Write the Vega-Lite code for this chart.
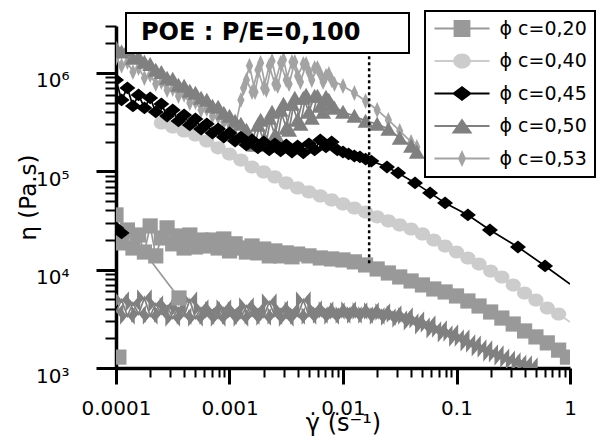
{
"$schema": "https://vega.github.io/schema/vega-lite/v6.json",
"width": 454, "height": 342,
"autosize": {"type": "none"},
"padding": {"left": 116, "top": 26, "right": 32, "bottom": 75},
"background": "white",
"config": {"view": {"stroke": null}, "font": "DejaVu Sans", "legend": {"strokeWidth": 2}},
"data": {"values": [
{"s":"0,53","r":"a","x":0.0001,"y":1420000},{"s":"0,53","r":"a","x":0.000112,"y":1180000},{"s":"0,53","r":"a","x":0.000126,"y":1290000},{"s":"0,53","r":"a","x":0.000141,"y":1020000},{"s":"0,53","r":"a","x":0.000158,"y":1120000},{"s":"0,53","r":"a","x":0.000178,"y":890000},{"s":"0,53","r":"a","x":0.0002,"y":954000},{"s":"0,53","r":"a","x":0.000224,"y":773000},{"s":"0,53","r":"a","x":0.000251,"y":810000},{"s":"0,53","r":"a","x":0.000282,"y":671000},{"s":"0,53","r":"a","x":0.000316,"y":687000},{"s":"0,53","r":"a","x":0.000355,"y":584000},{"s":"0,53","r":"a","x":0.000398,"y":600000},{"s":"0,53","r":"a","x":0.000447,"y":495000},{"s":"0,53","r":"a","x":0.000501,"y":505000},{"s":"0,53","r":"a","x":0.000562,"y":420000},{"s":"0,53","r":"a","x":0.000631,"y":430000},{"s":"0,53","r":"a","x":0.000708,"y":365000},{"s":"0,53","r":"a","x":0.000794,"y":357000},{"s":"0,53","r":"a","x":0.000891,"y":317000},{"s":"0,53","r":"a","x":0.001,"y":303000},{"s":"0,53","r":"a","x":0.00112,"y":276000},{"s":"0,53","r":"a","x":0.00126,"y":531000},{"s":"0,53","r":"a","x":0.00141,"y":849000},{"s":"0,53","r":"a","x":0.00158,"y":641000},{"s":"0,53","r":"a","x":0.00178,"y":1070000},{"s":"0,53","r":"a","x":0.002,"y":704000},{"s":"0,53","r":"a","x":0.00224,"y":1180000},{"s":"0,53","r":"a","x":0.00251,"y":773000},{"s":"0,53","r":"a","x":0.00282,"y":1260000},{"s":"0,53","r":"a","x":0.00316,"y":849000},{"s":"0,53","r":"a","x":0.00355,"y":1290000},{"s":"0,53","r":"a","x":0.00398,"y":932000},{"s":"0,53","r":"a","x":0.00447,"y":1230000},{"s":"0,53","r":"a","x":0.00501,"y":1020000},{"s":"0,53","r":"a","x":0.00562,"y":1120000},{"s":"0,53","r":"a","x":0.00631,"y":977000},{"s":"0,53","r":"a","x":0.00708,"y":932000},{"s":"0,53","r":"a","x":0.00794,"y":849000},{"s":"0,53","r":"a","x":0.01,"y":738000},{"s":"0,53","r":"a","x":0.0126,"y":626000},{"s":"0,53","r":"a","x":0.0158,"y":519000},{"s":"0,53","r":"a","x":0.02,"y":420000},{"s":"0,53","r":"a","x":0.0251,"y":333000},{"s":"0,53","r":"a","x":0.0316,"y":257000},{"s":"0,53","r":"a","x":0.0398,"y":199000},{"s":"0,53","r":"a","x":0.0447,"y":177000},
{"s":"0,53","r":"b","x":0.00133,"y":704000},{"s":"0,53","r":"b","x":0.0015,"y":1180000},{"s":"0,53","r":"b","x":0.00168,"y":641000},{"s":"0,53","r":"b","x":0.00188,"y":1260000},{"s":"0,53","r":"b","x":0.00211,"y":671000},{"s":"0,53","r":"b","x":0.00237,"y":1320000},{"s":"0,53","r":"b","x":0.00266,"y":738000},{"s":"0,53","r":"b","x":0.00299,"y":1360000},{"s":"0,53","r":"b","x":0.00335,"y":773000},{"s":"0,53","r":"b","x":0.00376,"y":1290000},{"s":"0,53","r":"b","x":0.00422,"y":810000},{"s":"0,53","r":"b","x":0.00473,"y":1230000},{"s":"0,53","r":"b","x":0.00531,"y":849000},{"s":"0,53","r":"b","x":0.00596,"y":1120000},{"s":"0,53","r":"b","x":0.00668,"y":810000},{"s":"0,53","r":"b","x":0.0075,"y":977000},{"s":"0,53","r":"b","x":0.00841,"y":773000},
{"s":"0,50","r":"a","x":0.0001,"y":1800000},{"s":"0,50","r":"a","x":0.000112,"y":1640000},{"s":"0,50","r":"a","x":0.000126,"y":1710000},{"s":"0,50","r":"a","x":0.000141,"y":1420000},{"s":"0,50","r":"a","x":0.000158,"y":1460000},{"s":"0,50","r":"a","x":0.000178,"y":1290000},{"s":"0,50","r":"a","x":0.0002,"y":1230000},{"s":"0,50","r":"a","x":0.000224,"y":1070000},{"s":"0,50","r":"a","x":0.000251,"y":1020000},{"s":"0,50","r":"a","x":0.000282,"y":890000},{"s":"0,50","r":"a","x":0.000316,"y":869000},{"s":"0,50","r":"a","x":0.000355,"y":755000},{"s":"0,50","r":"a","x":0.000398,"y":738000},{"s":"0,50","r":"a","x":0.000447,"y":656000},{"s":"0,50","r":"a","x":0.000501,"y":626000},{"s":"0,50","r":"a","x":0.000562,"y":557000},{"s":"0,50","r":"a","x":0.000631,"y":531000},{"s":"0,50","r":"a","x":0.000708,"y":462000},{"s":"0,50","r":"a","x":0.000794,"y":451000},{"s":"0,50","r":"a","x":0.000891,"y":392000},{"s":"0,50","r":"a","x":0.001,"y":365000},{"s":"0,50","r":"a","x":0.00112,"y":325000},{"s":"0,50","r":"a","x":0.00126,"y":303000},{"s":"0,50","r":"a","x":0.00141,"y":263000},{"s":"0,50","r":"a","x":0.00158,"y":208000},{"s":"0,50","r":"a","x":0.00178,"y":296000},{"s":"0,50","r":"a","x":0.002,"y":208000},{"s":"0,50","r":"a","x":0.00224,"y":348000},{"s":"0,50","r":"a","x":0.00251,"y":234000},{"s":"0,50","r":"a","x":0.00282,"y":420000},{"s":"0,50","r":"a","x":0.00316,"y":276000},{"s":"0,50","r":"a","x":0.00355,"y":484000},{"s":"0,50","r":"a","x":0.00398,"y":333000},{"s":"0,50","r":"a","x":0.00447,"y":557000},{"s":"0,50","r":"a","x":0.00501,"y":401000},{"s":"0,50","r":"a","x":0.00562,"y":584000},{"s":"0,50","r":"a","x":0.00631,"y":462000},{"s":"0,50","r":"a","x":0.00708,"y":570000},{"s":"0,50","r":"a","x":0.00794,"y":473000},{"s":"0,50","r":"a","x":0.01,"y":401000},{"s":"0,50","r":"a","x":0.0126,"y":365000},{"s":"0,50","r":"a","x":0.0158,"y":325000},{"s":"0,50","r":"a","x":0.02,"y":303000},{"s":"0,50","r":"a","x":0.0251,"y":269000},{"s":"0,50","r":"a","x":0.0316,"y":218000},{"s":"0,50","r":"a","x":0.0398,"y":181000},{"s":"0,50","r":"a","x":0.0447,"y":157000},
{"s":"0,50","r":"b","x":0.00168,"y":185000},{"s":"0,50","r":"b","x":0.00188,"y":333000},{"s":"0,50","r":"b","x":0.00211,"y":199000},{"s":"0,50","r":"b","x":0.00237,"y":401000},{"s":"0,50","r":"b","x":0.00266,"y":218000},{"s":"0,50","r":"b","x":0.00299,"y":484000},{"s":"0,50","r":"b","x":0.00335,"y":263000},{"s":"0,50","r":"b","x":0.00376,"y":557000},{"s":"0,50","r":"b","x":0.00422,"y":303000},{"s":"0,50","r":"b","x":0.00473,"y":597000},{"s":"0,50","r":"b","x":0.00531,"y":348000},{"s":"0,50","r":"b","x":0.00596,"y":584000},{"s":"0,50","r":"b","x":0.00668,"y":401000},{"s":"0,50","r":"b","x":0.0075,"y":531000},{"s":"0,50","r":"b","x":0.00841,"y":441000},
{"s":"0,50","r":"low","x":0.0001,"y":3710},{"s":"0,50","r":"low","x":0.000112,"y":4920},{"s":"0,50","r":"low","x":0.000126,"y":3380},{"s":"0,50","r":"low","x":0.000141,"y":4580},{"s":"0,50","r":"low","x":0.000158,"y":3540},{"s":"0,50","r":"low","x":0.000178,"y":5150},{"s":"0,50","r":"low","x":0.0002,"y":3380},{"s":"0,50","r":"low","x":0.000224,"y":4480},{"s":"0,50","r":"low","x":0.000251,"y":3540},{"s":"0,50","r":"low","x":0.000282,"y":4270},{"s":"0,50","r":"low","x":0.000316,"y":3220},{"s":"0,50","r":"low","x":0.000355,"y":4080},{"s":"0,50","r":"low","x":0.000398,"y":3380},{"s":"0,50","r":"low","x":0.000447,"y":4920},{"s":"0,50","r":"low","x":0.000501,"y":3220},{"s":"0,50","r":"low","x":0.000562,"y":4080},{"s":"0,50","r":"low","x":0.000631,"y":3380},{"s":"0,50","r":"low","x":0.000708,"y":3890},{"s":"0,50","r":"low","x":0.000794,"y":3220},{"s":"0,50","r":"low","x":0.000891,"y":4080},{"s":"0,50","r":"low","x":0.001,"y":3380},{"s":"0,50","r":"low","x":0.00112,"y":3890},{"s":"0,50","r":"low","x":0.00126,"y":3220},{"s":"0,50","r":"low","x":0.00141,"y":4270},{"s":"0,50","r":"low","x":0.00158,"y":3380},{"s":"0,50","r":"low","x":0.00178,"y":3980},{"s":"0,50","r":"low","x":0.002,"y":3300},{"s":"0,50","r":"low","x":0.00224,"y":4690},{"s":"0,50","r":"low","x":0.00251,"y":3380},{"s":"0,50","r":"low","x":0.00282,"y":3980},{"s":"0,50","r":"low","x":0.00316,"y":3220},{"s":"0,50","r":"low","x":0.00355,"y":3890},{"s":"0,50","r":"low","x":0.00398,"y":3380},{"s":"0,50","r":"low","x":0.00447,"y":4920},{"s":"0,50","r":"low","x":0.00501,"y":3380},{"s":"0,50","r":"low","x":0.00562,"y":3980},{"s":"0,50","r":"low","x":0.00631,"y":3460},{"s":"0,50","r":"low","x":0.00708,"y":3890},{"s":"0,50","r":"low","x":0.00794,"y":3380},{"s":"0,50","r":"low","x":0.00891,"y":3800},{"s":"0,50","r":"low","x":0.01,"y":3460},{"s":"0,50","r":"low","x":0.0112,"y":3890},{"s":"0,50","r":"low","x":0.0126,"y":3460},{"s":"0,50","r":"low","x":0.0141,"y":3800},{"s":"0,50","r":"low","x":0.0158,"y":3460},{"s":"0,50","r":"low","x":0.0178,"y":3800},{"s":"0,50","r":"low","x":0.02,"y":3380},{"s":"0,50","r":"low","x":0.0224,"y":3710},{"s":"0,50","r":"low","x":0.0251,"y":3300},{"s":"0,50","r":"low","x":0.0282,"y":3540},{"s":"0,50","r":"low","x":0.0316,"y":3150},{"s":"0,50","r":"low","x":0.0355,"y":3380},{"s":"0,50","r":"low","x":0.0398,"y":2940},{"s":"0,50","r":"low","x":0.0447,"y":3080},{"s":"0,50","r":"low","x":0.0501,"y":2680},{"s":"0,50","r":"low","x":0.0562,"y":2800},{"s":"0,50","r":"low","x":0.0631,"y":2440},{"s":"0,50","r":"low","x":0.0708,"y":2490},{"s":"0,50","r":"low","x":0.0794,"y":2220},{"s":"0,50","r":"low","x":0.0891,"y":2270},{"s":"0,50","r":"low","x":0.1,"y":2020},{"s":"0,50","r":"low","x":0.112,"y":2020},{"s":"0,50","r":"low","x":0.126,"y":1800},{"s":"0,50","r":"low","x":0.141,"y":1750},{"s":"0,50","r":"low","x":0.158,"y":1600},{"s":"0,50","r":"low","x":0.178,"y":1560},{"s":"0,50","r":"low","x":0.2,"y":1420},{"s":"0,50","r":"low","x":0.224,"y":1390},{"s":"0,50","r":"low","x":0.251,"y":1290},{"s":"0,50","r":"low","x":0.282,"y":1230},{"s":"0,50","r":"low","x":0.316,"y":1180},{"s":"0,50","r":"low","x":0.355,"y":1120},{"s":"0,50","r":"low","x":0.398,"y":1100},{"s":"0,50","r":"low","x":0.447,"y":1050},
{"s":"0,40","r":"a","x":0.000251,"y":310000},{"s":"0,40","r":"a","x":0.000316,"y":282000},{"s":"0,40","r":"a","x":0.000398,"y":257000},{"s":"0,40","r":"a","x":0.000501,"y":234000},{"s":"0,40","r":"a","x":0.000631,"y":203000},{"s":"0,40","r":"a","x":0.000794,"y":173000},{"s":"0,40","r":"a","x":0.001,"y":150000},{"s":"0,40","r":"a","x":0.00126,"y":130000},{"s":"0,40","r":"a","x":0.00158,"y":110600},{"s":"0,40","r":"a","x":0.002,"y":98600},{"s":"0,40","r":"a","x":0.00251,"y":87700},{"s":"0,40","r":"a","x":0.00316,"y":76200},{"s":"0,40","r":"a","x":0.00398,"y":67800},{"s":"0,40","r":"a","x":0.00501,"y":61700},{"s":"0,40","r":"a","x":0.00631,"y":56200},{"s":"0,40","r":"a","x":0.00794,"y":51200},{"s":"0,40","r":"a","x":0.01,"y":46600},{"s":"0,40","r":"a","x":0.0126,"y":42400},{"s":"0,40","r":"a","x":0.0158,"y":38600},{"s":"0,40","r":"a","x":0.02,"y":34400},{"s":"0,40","r":"a","x":0.0251,"y":31300},{"s":"0,40","r":"a","x":0.0316,"y":28500},{"s":"0,40","r":"a","x":0.0398,"y":25900},{"s":"0,40","r":"a","x":0.0501,"y":23100},{"s":"0,40","r":"a","x":0.0631,"y":20000},{"s":"0,40","r":"a","x":0.0794,"y":17400},{"s":"0,40","r":"a","x":0.1,"y":15100},{"s":"0,40","r":"a","x":0.126,"y":13150},{"s":"0,40","r":"a","x":0.158,"y":11400},{"s":"0,40","r":"a","x":0.2,"y":9700},{"s":"0,40","r":"a","x":0.251,"y":8430},{"s":"0,40","r":"a","x":0.316,"y":6990},{"s":"0,40","r":"a","x":0.398,"y":5790},{"s":"0,40","r":"a","x":0.501,"y":4920},{"s":"0,40","r":"a","x":0.631,"y":4080},{"s":"0,40","r":"a","x":0.794,"y":3540},{"s":"0,40","r":"a","x":1,"y":2940},
{"s":"0,20","r":"a","x":0.0001,"y":21000},{"s":"0,20","r":"a","x":0.000112,"y":18700},{"s":"0,20","r":"a","x":0.000126,"y":25300},{"s":"0,20","r":"a","x":0.000141,"y":16600},{"s":"0,20","r":"a","x":0.000158,"y":22500},{"s":"0,20","r":"a","x":0.000178,"y":15100},{"s":"0,20","r":"a","x":0.0002,"y":27800},{"s":"0,20","r":"a","x":0.000224,"y":13800},{"s":"0,20","r":"a","x":0.000251,"y":21000},{"s":"0,20","r":"a","x":0.000282,"y":26600},{"s":"0,20","r":"a","x":0.000316,"y":18300},{"s":"0,20","r":"a","x":0.000355,"y":22000},{"s":"0,20","r":"a","x":0.000398,"y":16600},{"s":"0,20","r":"a","x":0.000447,"y":22500},{"s":"0,20","r":"a","x":0.000501,"y":17000},{"s":"0,20","r":"a","x":0.000562,"y":20000},{"s":"0,20","r":"a","x":0.000631,"y":17400},{"s":"0,20","r":"a","x":0.000708,"y":20000},{"s":"0,20","r":"a","x":0.000794,"y":16600},{"s":"0,20","r":"a","x":0.000891,"y":20500},{"s":"0,20","r":"a","x":0.001,"y":15500},{"s":"0,20","r":"a","x":0.00112,"y":18300},{"s":"0,20","r":"a","x":0.00126,"y":16600},{"s":"0,20","r":"a","x":0.00141,"y":15100},{"s":"0,20","r":"a","x":0.00158,"y":17400},{"s":"0,20","r":"a","x":0.00178,"y":14800},{"s":"0,20","r":"a","x":0.002,"y":16200},{"s":"0,20","r":"a","x":0.00224,"y":13800},{"s":"0,20","r":"a","x":0.00251,"y":15500},{"s":"0,20","r":"a","x":0.00282,"y":13800},{"s":"0,20","r":"a","x":0.00316,"y":14800},{"s":"0,20","r":"a","x":0.00355,"y":13500},{"s":"0,20","r":"a","x":0.00398,"y":14400},{"s":"0,20","r":"a","x":0.00501,"y":13800},{"s":"0,20","r":"a","x":0.00631,"y":13150},{"s":"0,20","r":"a","x":0.00794,"y":12850},{"s":"0,20","r":"a","x":0.01,"y":12550},{"s":"0,20","r":"a","x":0.0126,"y":12000},{"s":"0,20","r":"a","x":0.0158,"y":11160},{"s":"0,20","r":"a","x":0.02,"y":10160},{"s":"0,20","r":"a","x":0.0251,"y":9250},{"s":"0,20","r":"a","x":0.0316,"y":8430},{"s":"0,20","r":"a","x":0.0398,"y":7670},{"s":"0,20","r":"a","x":0.0501,"y":6990},{"s":"0,20","r":"a","x":0.0631,"y":6360},{"s":"0,20","r":"a","x":0.0794,"y":5930},{"s":"0,20","r":"a","x":0.1,"y":5400},{"s":"0,20","r":"a","x":0.126,"y":4800},{"s":"0,20","r":"a","x":0.158,"y":4270},{"s":"0,20","r":"a","x":0.2,"y":3710},{"s":"0,20","r":"a","x":0.251,"y":3220},{"s":"0,20","r":"a","x":0.316,"y":2800},{"s":"0,20","r":"a","x":0.398,"y":2380},{"s":"0,20","r":"a","x":0.501,"y":2070},{"s":"0,20","r":"a","x":0.631,"y":1800},{"s":"0,20","r":"a","x":0.794,"y":1520},{"s":"0,20","r":"a","x":0.95,"y":1290},
{"s":"0,20","r":"c","x":0.0001,"y":36000},{"s":"0,20","r":"c","x":0.000359,"y":5150},
{"s":"0,20","r":"d","x":0.000106,"y":1290},
{"s":"0,45","r":"b","x":0.0001,"y":26600},{"s":"0,45","r":"b","x":0.000112,"y":23600},
{"s":"0,45","r":"a","x":0.0001,"y":849000},{"s":"0,45","r":"a","x":0.000112,"y":531000},{"s":"0,45","r":"a","x":0.000126,"y":704000},{"s":"0,45","r":"a","x":0.000141,"y":462000},{"s":"0,45","r":"a","x":0.000158,"y":597000},{"s":"0,45","r":"a","x":0.000178,"y":441000},{"s":"0,45","r":"a","x":0.0002,"y":557000},{"s":"0,45","r":"a","x":0.000224,"y":401000},{"s":"0,45","r":"a","x":0.000251,"y":484000},{"s":"0,45","r":"a","x":0.000282,"y":365000},{"s":"0,45","r":"a","x":0.000316,"y":420000},{"s":"0,45","r":"a","x":0.000355,"y":325000},{"s":"0,45","r":"a","x":0.000398,"y":374000},{"s":"0,45","r":"a","x":0.000447,"y":296000},{"s":"0,45","r":"a","x":0.000501,"y":340000},{"s":"0,45","r":"a","x":0.000562,"y":269000},{"s":"0,45","r":"a","x":0.000631,"y":303000},{"s":"0,45","r":"a","x":0.000708,"y":245000},{"s":"0,45","r":"a","x":0.000794,"y":269000},{"s":"0,45","r":"a","x":0.000891,"y":223000},{"s":"0,45","r":"a","x":0.001,"y":245000},{"s":"0,45","r":"a","x":0.00112,"y":203000},{"s":"0,45","r":"a","x":0.00126,"y":223000},{"s":"0,45","r":"a","x":0.00141,"y":185000},{"s":"0,45","r":"a","x":0.00158,"y":208000},{"s":"0,45","r":"a","x":0.00178,"y":173000},{"s":"0,45","r":"a","x":0.002,"y":199000},{"s":"0,45","r":"a","x":0.00224,"y":165000},{"s":"0,45","r":"a","x":0.00251,"y":190000},{"s":"0,45","r":"a","x":0.00282,"y":161000},{"s":"0,45","r":"a","x":0.00316,"y":185000},{"s":"0,45","r":"a","x":0.00355,"y":157000},{"s":"0,45","r":"a","x":0.00398,"y":181000},{"s":"0,45","r":"a","x":0.00447,"y":154000},{"s":"0,45","r":"a","x":0.00501,"y":190000},{"s":"0,45","r":"a","x":0.00562,"y":165000},{"s":"0,45","r":"a","x":0.00631,"y":208000},{"s":"0,45","r":"a","x":0.00708,"y":177000},{"s":"0,45","r":"a","x":0.00794,"y":199000},{"s":"0,45","r":"a","x":0.00891,"y":165000},{"s":"0,45","r":"a","x":0.01,"y":157000},{"s":"0,45","r":"a","x":0.0112,"y":150000},{"s":"0,45","r":"a","x":0.0126,"y":143000},{"s":"0,45","r":"a","x":0.0141,"y":140000},{"s":"0,45","r":"a","x":0.0158,"y":133000},{"s":"0,45","r":"a","x":0.0178,"y":127000},{"s":"0,45","r":"a","x":0.0244,"y":110600},{"s":"0,45","r":"a","x":0.0306,"y":96300},{"s":"0,45","r":"a","x":0.0431,"y":76200},{"s":"0,45","r":"a","x":0.0585,"y":60300},{"s":"0,45","r":"a","x":0.0793,"y":47700},{"s":"0,45","r":"a","x":0.126,"y":36000},{"s":"0,45","r":"a","x":0.197,"y":25300},{"s":"0,45","r":"a","x":0.348,"y":17000},{"s":"0,45","r":"a","x":0.603,"y":10900},{"s":"0,45","r":"a","x":1,"y":7150}
]},
"layer": [
{
"mark": {"type": "line", "strokeWidth": 1.7, "clip": true},
"encoding": {
"x": {"field": "x", "type": "quantitative", "scale": {"type": "log", "domain": [0.0001, 1], "nice": false},
 "axis": {"title": "γ̇ (s⁻¹)", "grid": false,
  "values": [0.0001,0.0002,0.0003,0.0004,0.0005,0.0006,0.0007,0.0008,0.0009,0.001,0.002,0.003,0.004,0.005,0.006,0.007,0.008,0.009,0.01,0.02,0.03,0.04,0.05,0.06,0.07,0.08,0.09,0.1,0.2,0.3,0.4,0.5,0.6,0.7,0.8,0.9,1],
  "labelExpr": "datum.value == 0.0001 ? '0.0001' : datum.value == 0.001 ? '0.001' : datum.value == 0.01 ? '0.01' : datum.value == 0.1 ? '0.1' : datum.value == 1 ? '1' : ''",
  "tickSize": {"condition": {"test": "datum.value == 0.0001 || datum.value == 0.001 || datum.value == 0.01 || datum.value == 0.1 || datum.value == 1", "value": 16}, "value": 9},
  "tickWidth": {"condition": {"test": "datum.value == 0.0001 || datum.value == 0.001 || datum.value == 0.01 || datum.value == 0.1 || datum.value == 1", "value": 3}, "value": 2},
  "tickColor": "black", "domainColor": "black", "domainWidth": 3.5,
  "labelFont": "DejaVu Sans", "labelFontSize": 20, "labelColor": "black", "labelPadding": 14, "labelFlush": false, "labelOverlap": false,
  "titleFont": "DejaVu Sans", "titleFontSize": 24, "titleFontWeight": "normal", "titleColor": "black", "titlePadding": -7}},
"y": {"field": "y", "type": "quantitative", "scale": {"type": "log", "domain": [1000, 3000000], "nice": false},
 "axis": {"title": "η (Pa.s)", "grid": false,
  "values": [1000,2000,3000,4000,5000,6000,7000,8000,9000,10000,20000,30000,40000,50000,60000,70000,80000,90000,100000,200000,300000,400000,500000,600000,700000,800000,900000,1000000,2000000,3000000],
  "labelExpr": "datum.value == 1000 ? '10³' : datum.value == 10000 ? '10⁴' : datum.value == 100000 ? '10⁵' : datum.value == 1000000 ? '10⁶' : ''",
  "tickSize": {"condition": {"test": "datum.value == 1000 || datum.value == 10000 || datum.value == 100000 || datum.value == 1000000", "value": 20}, "value": 11},
  "tickWidth": {"condition": {"test": "datum.value == 1000 || datum.value == 10000 || datum.value == 100000 || datum.value == 1000000", "value": 3}, "value": 2},
  "tickColor": "black", "domainColor": "black", "domainWidth": 3.5,
  "labelFont": "DejaVu Sans", "labelFontSize": 20, "labelColor": "black", "labelPadding": 27, "labelOffset": 8, "labelFlush": false, "labelOverlap": false,
  "titleFont": "DejaVu Sans", "titleFontSize": 23, "titleFontWeight": "normal", "titleColor": "black", "titlePadding": -5}},
"stroke": {"field": "s", "type": "nominal", "scale": {"domain": ["0,20","0,40","0,45","0,50","0,53"], "range": ["#999999","#cccccc","#000000","#808080","#a3a3a3"]}, "legend": null},
"detail": {"field": "r"}
}
},
{
"transform": [{"filter": "datum.r == 'low'"}],
"mark": {"type": "point", "filled": true, "size": 300, "opacity": 1, "shape": "M-0.85,-1L0,0L-0.85,1Z M0.85,-1L0,0L0.85,1Z", "color": "#808080", "clip": true},
"encoding": {"x": {"field": "x", "type": "quantitative"}, "y": {"field": "y", "type": "quantitative"}}
},
{
"transform": [{"filter": "datum.r != 'low' && datum.x < 1"}],
"mark": {"type": "point", "filled": true, "size": 256, "opacity": 1, "clip": true},
"encoding": {
"x": {"field": "x", "type": "quantitative"},
"y": {"field": "y", "type": "quantitative"},
"fill": {"field": "s", "type": "nominal", "scale": {"domain": ["0,20","0,40","0,45","0,50","0,53"], "range": ["#999999","#cccccc","#000000","#808080","#a3a3a3"]}, "legend": null},
"shape": {"field": "s", "type": "nominal", "scale": {"domain": ["0,20","0,40","0,45","0,50","0,53"], "range": ["M-0.95,-0.95H0.95V0.95H-0.95Z","M-0.95,0A0.95,0.82 0 1,1 0.95,0A0.95,0.82 0 1,1 -0.95,0Z","M-1,0L0,-0.8L1,0L0,0.8Z","M0,-0.9L1,0.85L-1,0.85Z","M0,-1L0.45,0L0,1L-0.45,0Z"]}, "legend": null}
}
},
{
"data": {"values": [{"x": 0.017, "y": 11600, "y2": 1750000, "t": "POE : P/E=0,100"}]},
"mark": {"type": "rule", "strokeWidth": 2.5, "color": "black"},
"encoding": {
"x": {"field": "x", "type": "quantitative"},
"y": {"field": "y", "type": "quantitative"},
"y2": {"field": "y2"},
"strokeDash": {"field": "t", "type": "nominal", "scale": {"range": [[3,3]]},
 "legend": {"orient": "none", "legendX": 10, "legendY": -13, "title": null, "labelFont": "DejaVu Sans", "labelFontWeight": "bold", "labelFontSize": 24, "labelColor": "black", "labelLimit": 500, "symbolOpacity": 0, "symbolType": "M0,-1H255V1H0Z", "symbolSize": 4, "symbolOffset": 0, "labelOffset": -17, "padding": 8, "strokeColor": "black", "fillColor": "white"}}
}
},
{
"transform": [{"filter": "false"}],
"mark": {"type": "point", "filled": true, "size": 256, "opacity": 1},
"encoding": {
"x": {"field": "x", "type": "quantitative"},
"y": {"field": "y", "type": "quantitative"},
"fill": {"field": "s", "type": "nominal", "scale": {"domain": ["0,20","0,40","0,45","0,50","0,53"], "range": ["#999999","#cccccc","#000000","#808080","#a3a3a3"]},
 "legend": {"orient": "none", "legendX": 309, "legendY": -15, "title": null, "labelExpr": "'ϕ c=' + datum.label", "labelFont": "DejaVu Sans", "labelFontSize": 19, "labelColor": "black", "labelLimit": 500, "symbolSize": 256, "symbolStrokeWidth": 0, "symbolOpacity": 1, "symbolOffset": 19.5, "labelOffset": 28, "rowPadding": 12.5, "padding": 8, "strokeColor": "black", "fillColor": "white"}},
"shape": {"field": "s", "type": "nominal", "scale": {"domain": ["0,20","0,40","0,45","0,50","0,53"], "range": ["M-3.44,-0.12H3.44V0.12H-3.44Z M-1.05,-1.05H1.05V1.05H-1.05Z","M-3.44,-0.12H3.44V0.12H-3.44Z M-1.1,0A1.1,0.95 0 1,1 1.1,0A1.1,0.95 0 1,1 -1.1,0Z","M-3.44,-0.12H3.44V0.12H-3.44Z M-1.25,0L0,-0.95L1.25,0L0,0.95Z","M-3.44,-0.12H3.44V0.12H-3.44Z M0,-0.95L1.3,0.95L-1.3,0.95Z","M-3.44,-0.12H3.44V0.12H-3.44Z M0,-1.05L0.5,0L0,1.05L-0.5,0Z"]},
 "legend": {"orient": "none", "legendX": 309, "legendY": -15, "title": null, "labelExpr": "'ϕ c=' + datum.label", "labelFont": "DejaVu Sans", "labelFontSize": 19, "labelColor": "black", "labelLimit": 500, "symbolSize": 256, "symbolStrokeWidth": 0, "symbolOpacity": 1, "symbolOffset": 19.5, "labelOffset": 28, "rowPadding": 12.5, "padding": 8, "strokeColor": "black", "fillColor": "white"}}
}
}
],
"resolve": {"scale": {"fill": "independent", "shape": "independent"}}
}
